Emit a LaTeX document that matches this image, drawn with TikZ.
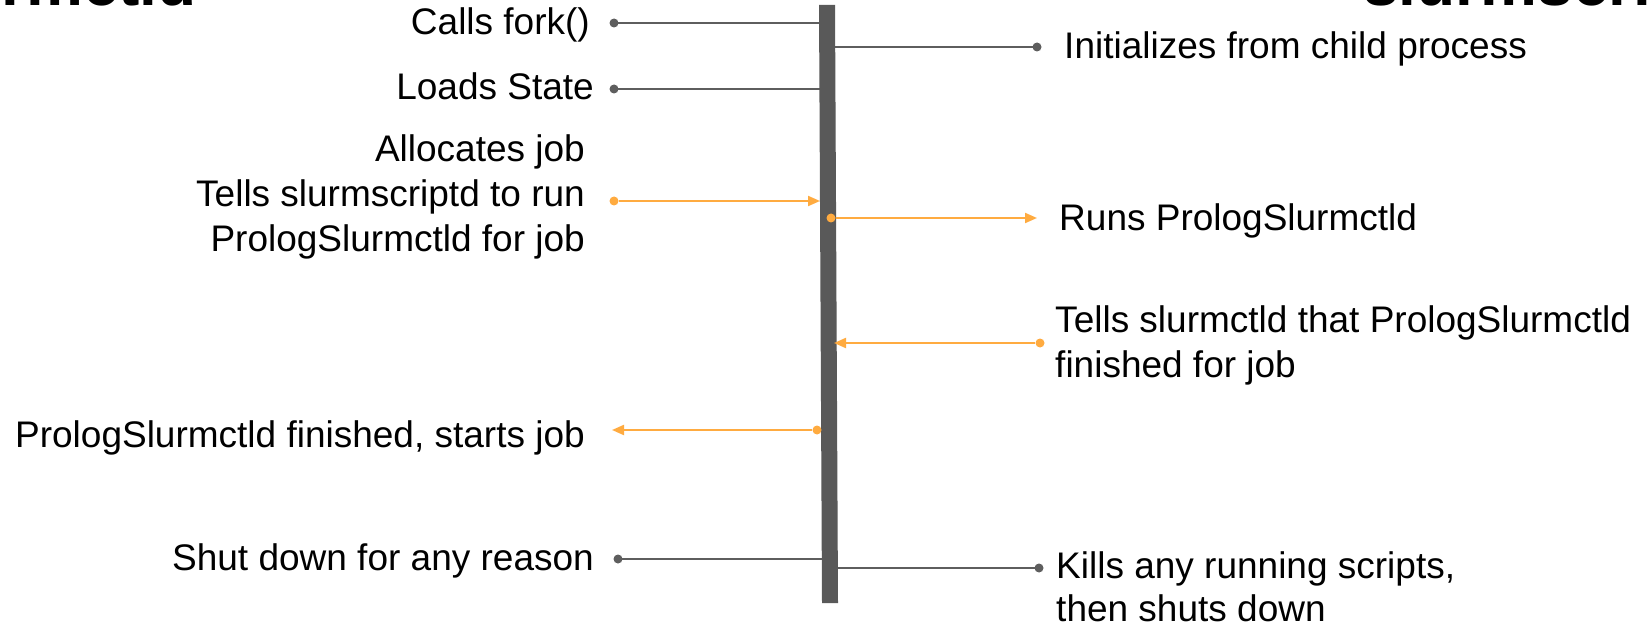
\documentclass[tikz,border=0pt]{standalone}
\usepackage{fontspec}
\setmainfont{Liberation Sans}
\usetikzlibrary{arrows.meta}
\definecolor{bargray}{HTML}{595959}
\definecolor{linegray}{HTML}{5E5E5E}
\definecolor{orng}{HTML}{FFAB40}
\tikzset{
  lbl/.style={font=\fontsize{37}{45}\selectfont, inner sep=0pt, text=black},
  ttl/.style={font=\fontsize{64}{70}\selectfont\bfseries, inner sep=0pt, text=black},
  gline/.style={draw=linegray, line width=1.7pt},
  oline/.style={draw=orng, line width=2pt},
  oarrow/.style={oline, -{Triangle[length=12pt,width=10pt]}},
  gdot/.style={circle, fill=linegray, minimum size=9pt, inner sep=0pt},
  odot/.style={circle, fill=orng, minimum size=9pt, inner sep=0pt},
}
\begin{document}
\begin{tikzpicture}[x=1pt,y=-1pt]
\clip (0,0) rectangle (1648,628);
\fill[white] (0,0) rectangle (1648,628);
% titles (cut off at the top)
\node[ttl, anchor=base east] (ctld) at (197,6) {slurmctld};
\node[ttl, anchor=base west] (scriptd) at (1363,6) {slurmscriptd};
% gray connectors
\node[gdot] (d1) at (614,23) {};
\coordinate (b1) at (824,23);
\node[gdot] (d2) at (1037,47) {};
\coordinate (b2) at (830,47);
\node[gdot] (d3) at (614,89) {};
\coordinate (b3) at (824,89);
\node[gdot] (d8) at (618,559) {};
\coordinate (b8) at (828,559);
\node[gdot] (d9) at (1039,568) {};
\coordinate (b9) at (834,568);
\draw[gline] (d1.center) -- (b1);
\draw[gline] (b2) -- (d2.center);
\draw[gline] (d3.center) -- (b3);
\draw[gline] (d8.center) -- (b8);
\draw[gline] (b9) -- (d9.center);
% timeline bar
\fill[bargray] (819,5) -- (835,5) -- (838,603) -- (822,603) -- cycle;
% orange messages
\node[odot] (o1) at (614,201) {};
\coordinate (t1) at (820,201);
\node[odot] (o2) at (831,218) {};
\coordinate (t2) at (1037,218);
\node[odot] (o3) at (1040,343) {};
\coordinate (t3) at (834,343);
\node[odot] (o4) at (817,430) {};
\coordinate (t4) at (612,430);
\draw[oarrow] (o1) -- (t1);
\draw[oarrow] (o2) -- (t2);
\draw[oarrow] (o3) -- (t3);
\draw[oarrow] (o4) -- (t4);
% left labels
\node[lbl, anchor=base east] (l1) at (590,35) {Calls fork()};
\node[lbl, anchor=base east] (l2) at (594,100) {Loads State};
\node[lbl, anchor=base east, align=right] (l3) at (585,252) {Allocates job\\Tells slurmscriptd to run\\PrologSlurmctld for job};
\node[lbl, anchor=base east] (l4) at (585,447) {PrologSlurmctld finished, starts job};
\node[lbl, anchor=base east] (l5) at (594,570) {Shut down for any reason};
% right labels
\node[lbl, anchor=base west] (r1) at (1064,59) {Initializes from child process};
\node[lbl, anchor=base west] (r2) at (1059,231) {Runs PrologSlurmctld};
\node[lbl, anchor=base west, align=left] (r3) at (1055,377) {Tells slurmctld that PrologSlurmctld\\finished for job};
\node[lbl, anchor=base west, align=left] (r4) at (1056,621) {Kills any running scripts,\\[-2pt]then shuts down};
\end{tikzpicture}
\end{document}
